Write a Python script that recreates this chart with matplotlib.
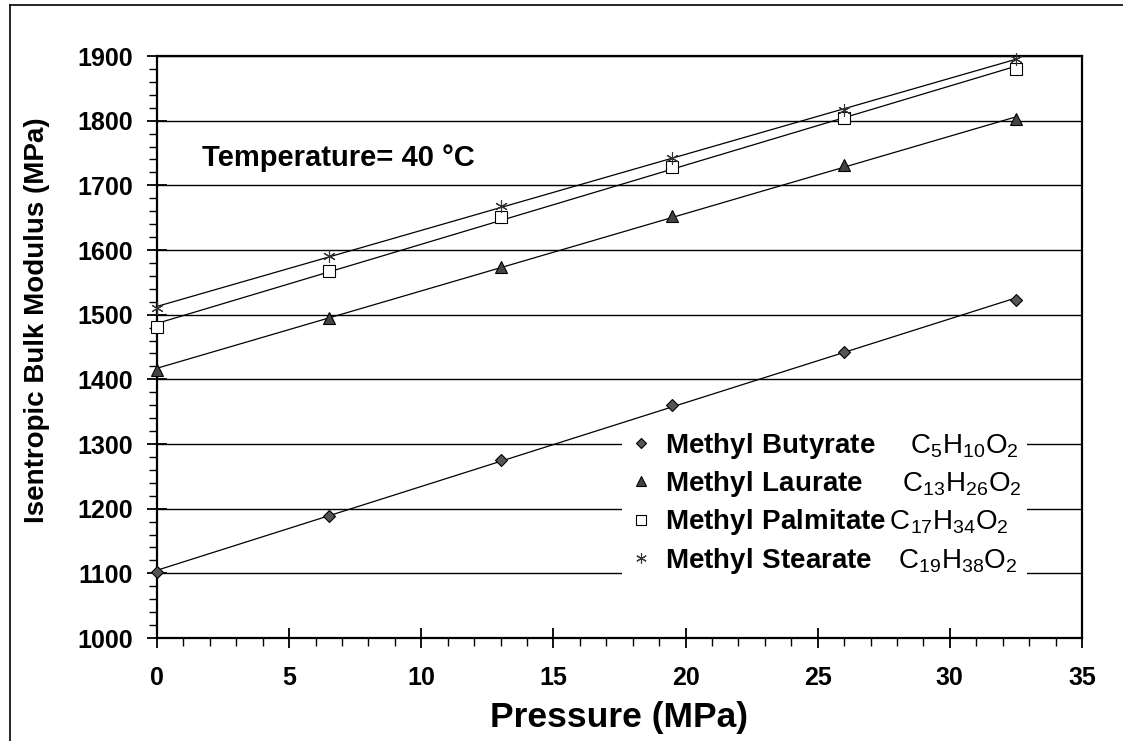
import numpy as np
import matplotlib
matplotlib.use("Agg")
import matplotlib.pyplot as plt
from matplotlib.ticker import MultipleLocator
from matplotlib.lines import Line2D

plt.rcParams['font.family'] = ['Liberation Sans', 'DejaVu Sans']
plt.rcParams['mathtext.fontset'] = 'custom'
plt.rcParams['mathtext.rm'] = 'Liberation Sans'
plt.rcParams['mathtext.bf'] = 'Liberation Sans:bold'

# data
pressure = [0, 6.5, 13, 19.5, 26, 32.5]
butyrate = [1102, 1189, 1276, 1360, 1442, 1523]
laurate = [1415, 1495, 1574, 1652, 1731, 1802]
palmitate = [1481, 1567, 1651, 1729, 1804, 1880]
stearate = [1511, 1590, 1668, 1742, 1817, 1895]

names = ['Methyl Butyrate', 'Methyl Laurate', 'Methyl Palmitate', 'Methyl Stearate']
formulas = ['C_5H_{10}O_2', 'C_{13}H_{26}O_2', 'C_{17}H_{34}O_2', 'C_{19}H_{38}O_2']
gaps = [r'\ \ \ \ ', r'\ \ \ \ \,', r'\,', r'\ \ \ ']  # space between name and formula
series = [butyrate, laurate, palmitate, stearate]
markers = ['D', '^', 's', (6, 2, 0)]
faces = ['#555555', '#444444', 'white', 'none']
sizes = [6, 9, 8, 9]

W, H = 1123, 741
fig = plt.figure(figsize=(W / 100, H / 100), dpi=100)
ax = fig.add_axes([157 / W, 1 - 638 / H, (1082 - 157) / W, (638 - 56) / H])

# outer border (only left and top edges fall inside the image)
fig.lines.append(Line2D([10 / W, 10 / W], [0, 1 - 5 / H], transform=fig.transFigure,
                        color='black', lw=1.2))
fig.lines.append(Line2D([10 / W, 1], [1 - 5 / H, 1 - 5 / H], transform=fig.transFigure,
                        color='black', lw=1.2))

x = np.array(pressure, dtype=float)
for ys, name, f, gap, m, fc, s in zip(series, names, formulas, gaps, markers, faces, sizes):
    k, b = np.polyfit(x, ys, 1)
    ax.plot([0, 32.5], [b, k * 32.5 + b], color='black', lw=0.9, zorder=3)
    label = (r'$\mathbf{' + name.replace(' ', r'\ ') + '}' + gap
             + r'\mathregular{' + f + '}$')
    ax.plot(x, ys, linestyle='none', marker=m, markersize=s, markerfacecolor=fc,
            markeredgecolor='black' if m != (6, 2, 0) else '#333333',
            markeredgewidth=0.8, color='black', label=label, zorder=4, clip_on=False)

ax.set_xlim(0, 35)
ax.set_ylim(1000, 1900)
ax.xaxis.set_major_locator(MultipleLocator(5))
ax.xaxis.set_minor_locator(MultipleLocator(1))
ax.yaxis.set_major_locator(MultipleLocator(100))
ax.yaxis.set_minor_locator(MultipleLocator(20))
ax.grid(axis='y', which='major', color='black', lw=1)
ax.set_axisbelow(True)
for sp in ax.spines.values():
    sp.set_linewidth(1.6)
ax.tick_params(which='major', direction='inout', length=15, width=1.3, labelsize=18)
ax.tick_params(axis='y', which='major', pad=10)
ax.tick_params(axis='x', which='major', pad=13)
ax.tick_params(which='minor', direction='out', length=6, width=1.0)
for t in ax.get_xticklabels() + ax.get_yticklabels():
    t.set_fontweight('bold')

ax.set_xlabel('Pressure (MPa)', fontsize=25.5, fontweight='bold')
ax.xaxis.set_label_coords(0.5, -(717 - 638) / 582, transform=ax.transAxes)
ax.xaxis.label.set_va('center')
ax.set_ylabel('Isentropic Bulk Modulus (MPa)', fontsize=20, fontweight='bold')
ax.yaxis.set_label_coords(-(157 - 37) / 925, (638 - 320) / 582)
ax.yaxis.label.set_va('center')

ax.text(1.7, 1743, 'Temperature= 40 °C', fontsize=21, fontweight='bold', va='center')

leg = ax.legend(loc='upper left', bbox_to_anchor=((622 - 157) / 925, (638 - 425) / 582),
                borderaxespad=0, frameon=True, fontsize=20, handlelength=1.0,
                handletextpad=0.35, labelspacing=0.3, borderpad=0.2, markerscale=0.85)
leg.get_frame().set_edgecolor('none')
leg.get_frame().set_facecolor('white')
leg.get_frame().set_alpha(1)
leg.get_frame().set_boxstyle('square', pad=0)

fig.savefig('out.png', dpi=100)
